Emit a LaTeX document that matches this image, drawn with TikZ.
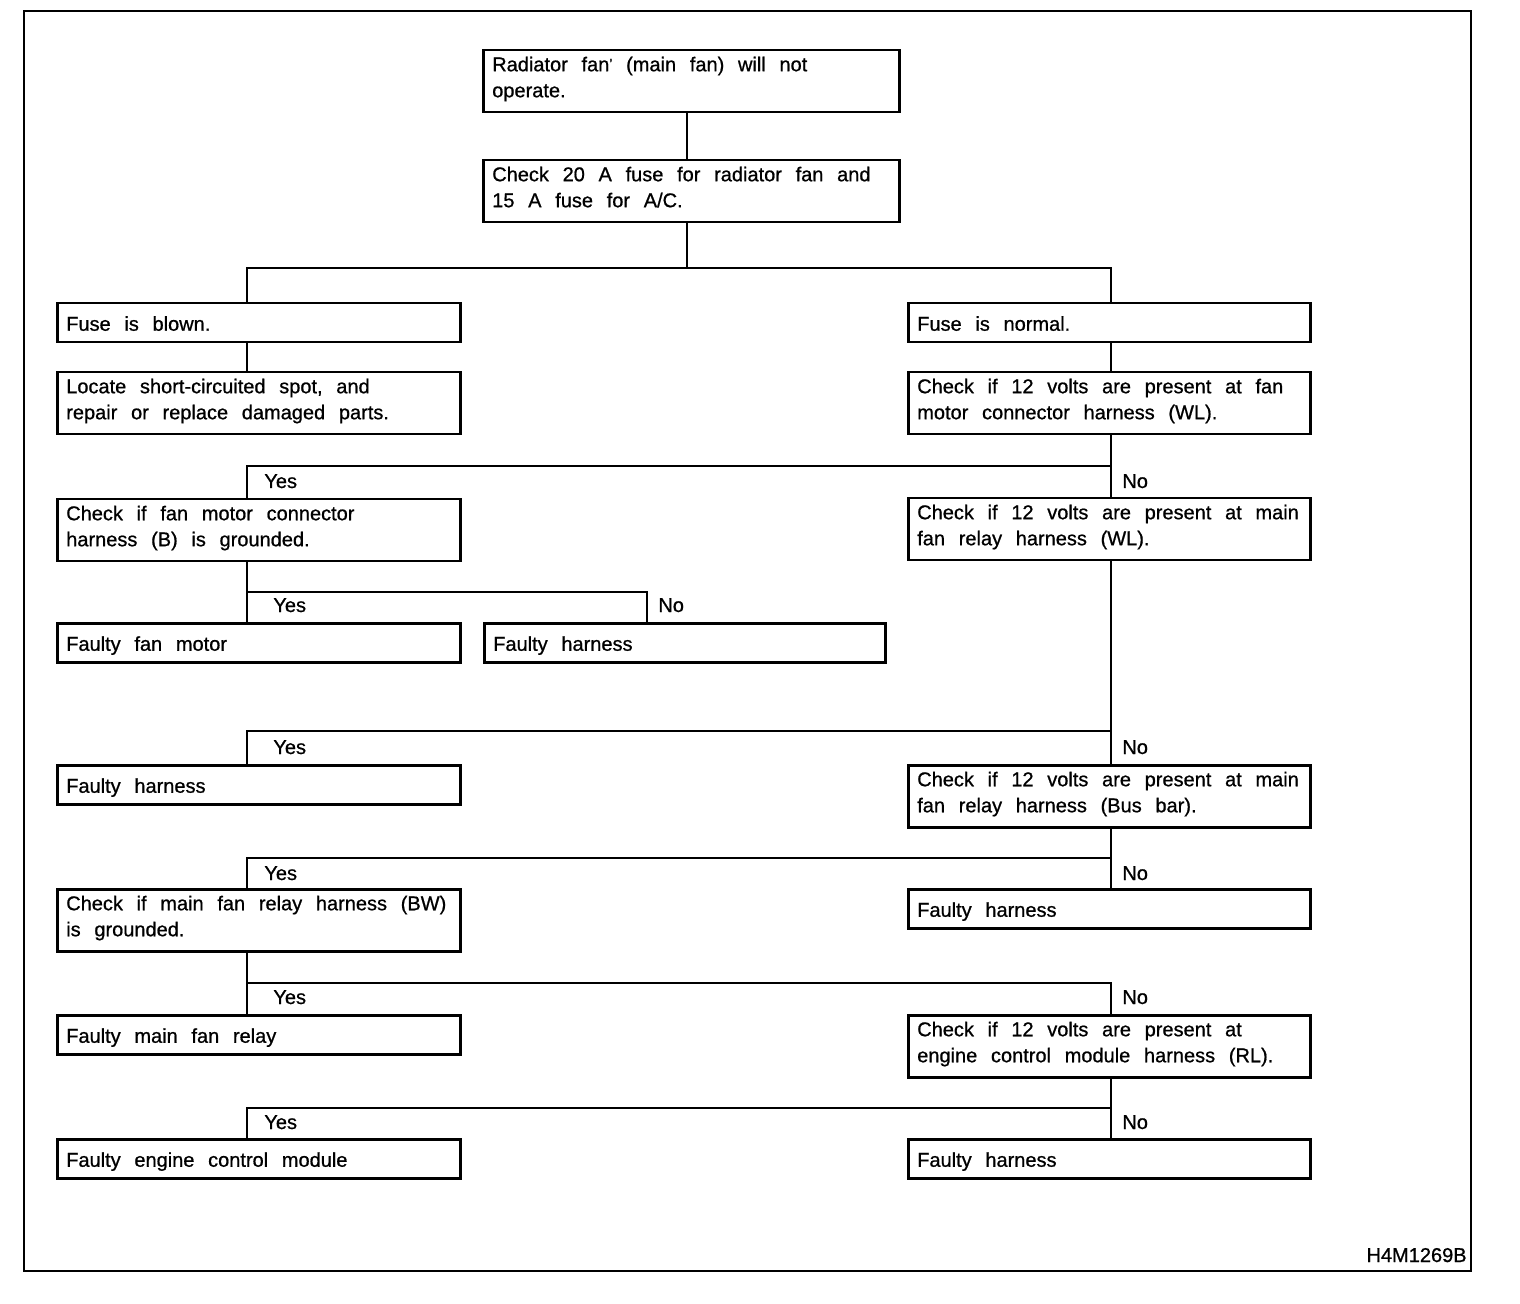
\documentclass[tikz,border=0pt]{standalone}
\usepackage{fontspec}
\setmainfont{Liberation Sans}[FakeBold=0.8]
\newcommand{\diagfont}{\fontsize{10}{13}\selectfont}
\newcommand{\widespaces}{\spaceskip=6.85pt\relax\xspaceskip=6.85pt\relax}
\begin{document}
\begin{tikzpicture}[x=0.5pt,y=-0.5pt,
  txt/.style={font=\diagfont},
  box/.style={draw, line width=1.25pt, anchor=north west, inner xsep=4.5pt, inner ysep=0pt, align=left, txt, execute at begin node=\widespaces},
  one/.style={minimum height=19.5pt, text height=8pt, text depth=0pt},
  two/.style={minimum height=31pt, text height=7.2pt, text depth=17.2pt},
  wtop/.style={text width=199pt},
  wl/.style={text width=192.5pt},
  wr/.style={text width=192pt},
  wn/.style={text width=191.5pt},
  conn/.style={line width=1pt},
  lbl/.style={txt, inner sep=0pt, anchor=base west}
]
\useasboundingbox (0,0) rectangle (1520,1304);
\draw[line width=1pt] (24,11) rectangle (1471,1271);

% boxes
\node[box,two,wtop] (b1) at (482,49) {Radiator fan\raisebox{0.25ex}{\scriptsize'} (main fan) will not\\operate.};
\node[box,two,wtop] (b2) at (482,159) {Check 20 A fuse for radiator fan and\\15 A fuse for A/C.};
\node[box,one,wl] (b3) at (56,302) {Fuse is blown.};
\node[box,one,wr] (b4) at (907,302) {Fuse is normal.};
\node[box,two,wl] (b5) at (56,371) {Locate short-circuited spot, and\\repair or replace damaged parts.};
\node[box,two,wr] (b6) at (907,371) {Check if 12 volts are present at fan\\motor connector harness (WL).};
\node[box,two,wl] (b7) at (56,498) {Check if fan motor connector\\harness (B) is grounded.};
\node[box,two,wr] (b8) at (907,497) {Check if 12 volts are present at main\\fan relay harness (WL).};
\node[box,one,wl] (b9) at (56,622) {Faulty fan motor};
\node[box,one,wn] (b10) at (483,622) {Faulty harness};
\node[box,one,wl] (b11) at (56,764) {Faulty harness};
\node[box,two,wr] (b12) at (907,764) {Check if 12 volts are present at main\\fan relay harness (Bus bar).};
\node[box,two,wl] (b13) at (56,888) {Check if main fan relay harness (BW)\\is grounded.};
\node[box,one,wr] (b14) at (907,888) {Faulty harness};
\node[box,one,wl] (b15) at (56,1014) {Faulty main fan relay};
\node[box,two,wr] (b16) at (907,1014) {Check if 12 volts are present at\\engine control module harness (RL).};
\node[box,one,wl] (b17) at (56,1138) {Faulty engine control module};
\node[box,one,wr] (b18) at (907,1138) {Faulty harness};

% connector columns and junctions
\coordinate (xL) at (247,0);
\coordinate (xM) at (687,0);
\coordinate (xR) at (1111,0);
\coordinate (xN) at (647,0);
\coordinate (j1) at (687,268);
\coordinate (j2) at (1111,466);
\coordinate (j3) at (247,592);
\coordinate (j4) at (1111,731);
\coordinate (j5) at (1111,858);
\coordinate (j6) at (247,983);
\coordinate (j7) at (1111,1108);

\draw[conn] (xM |- b1.south) -- (xM |- b2.north);
\draw[conn] (xM |- b2.south) -- (j1);
\draw[conn] (j1) -| (xL |- b3.north);
\draw[conn] (j1) -| (xR |- b4.north);
\draw[conn] (xL |- b3.south) -- (xL |- b5.north);
\draw[conn] (xR |- b4.south) -- (xR |- b6.north);

\draw[conn] (xR |- b6.south) -- (xR |- b8.north);
\draw[conn] (j2) -| (xL |- b7.north);

\draw[conn] (xL |- b7.south) -- (xL |- b9.north);
\draw[conn] (j3) -| (xN |- b10.north);

\draw[conn] (xR |- b8.south) -- (xR |- b12.north);
\draw[conn] (j4) -| (xL |- b11.north);

\draw[conn] (xR |- b12.south) -- (xR |- b14.north);
\draw[conn] (j5) -| (xL |- b13.north);

\draw[conn] (xL |- b13.south) -- (xL |- b15.north);
\draw[conn] (j6) -| (xR |- b16.north);

\draw[conn] (xR |- b16.south) -- (xR |- b18.north);
\draw[conn] (j7) -| (xL |- b17.north);

% labels
\node[lbl] (y1) at (264,488) {Yes};
\node[lbl] (n1) at (1122,488) {No};
\node[lbl] (y2) at (273,612) {Yes};
\node[lbl] (n2) at (658,612) {No};
\node[lbl] (y3) at (273,754) {Yes};
\node[lbl] (n3) at (1122,754) {No};
\node[lbl] (y4) at (264,880) {Yes};
\node[lbl] (n4) at (1122,880) {No};
\node[lbl] (y5) at (273,1004) {Yes};
\node[lbl] (n5) at (1122,1004) {No};
\node[lbl] (y6) at (264,1129) {Yes};
\node[lbl] (n6) at (1122,1129) {No};

\node[txt, inner sep=0pt, anchor=base east] (code) at (1467,1262) {H4M1269B};
\end{tikzpicture}
\end{document}
